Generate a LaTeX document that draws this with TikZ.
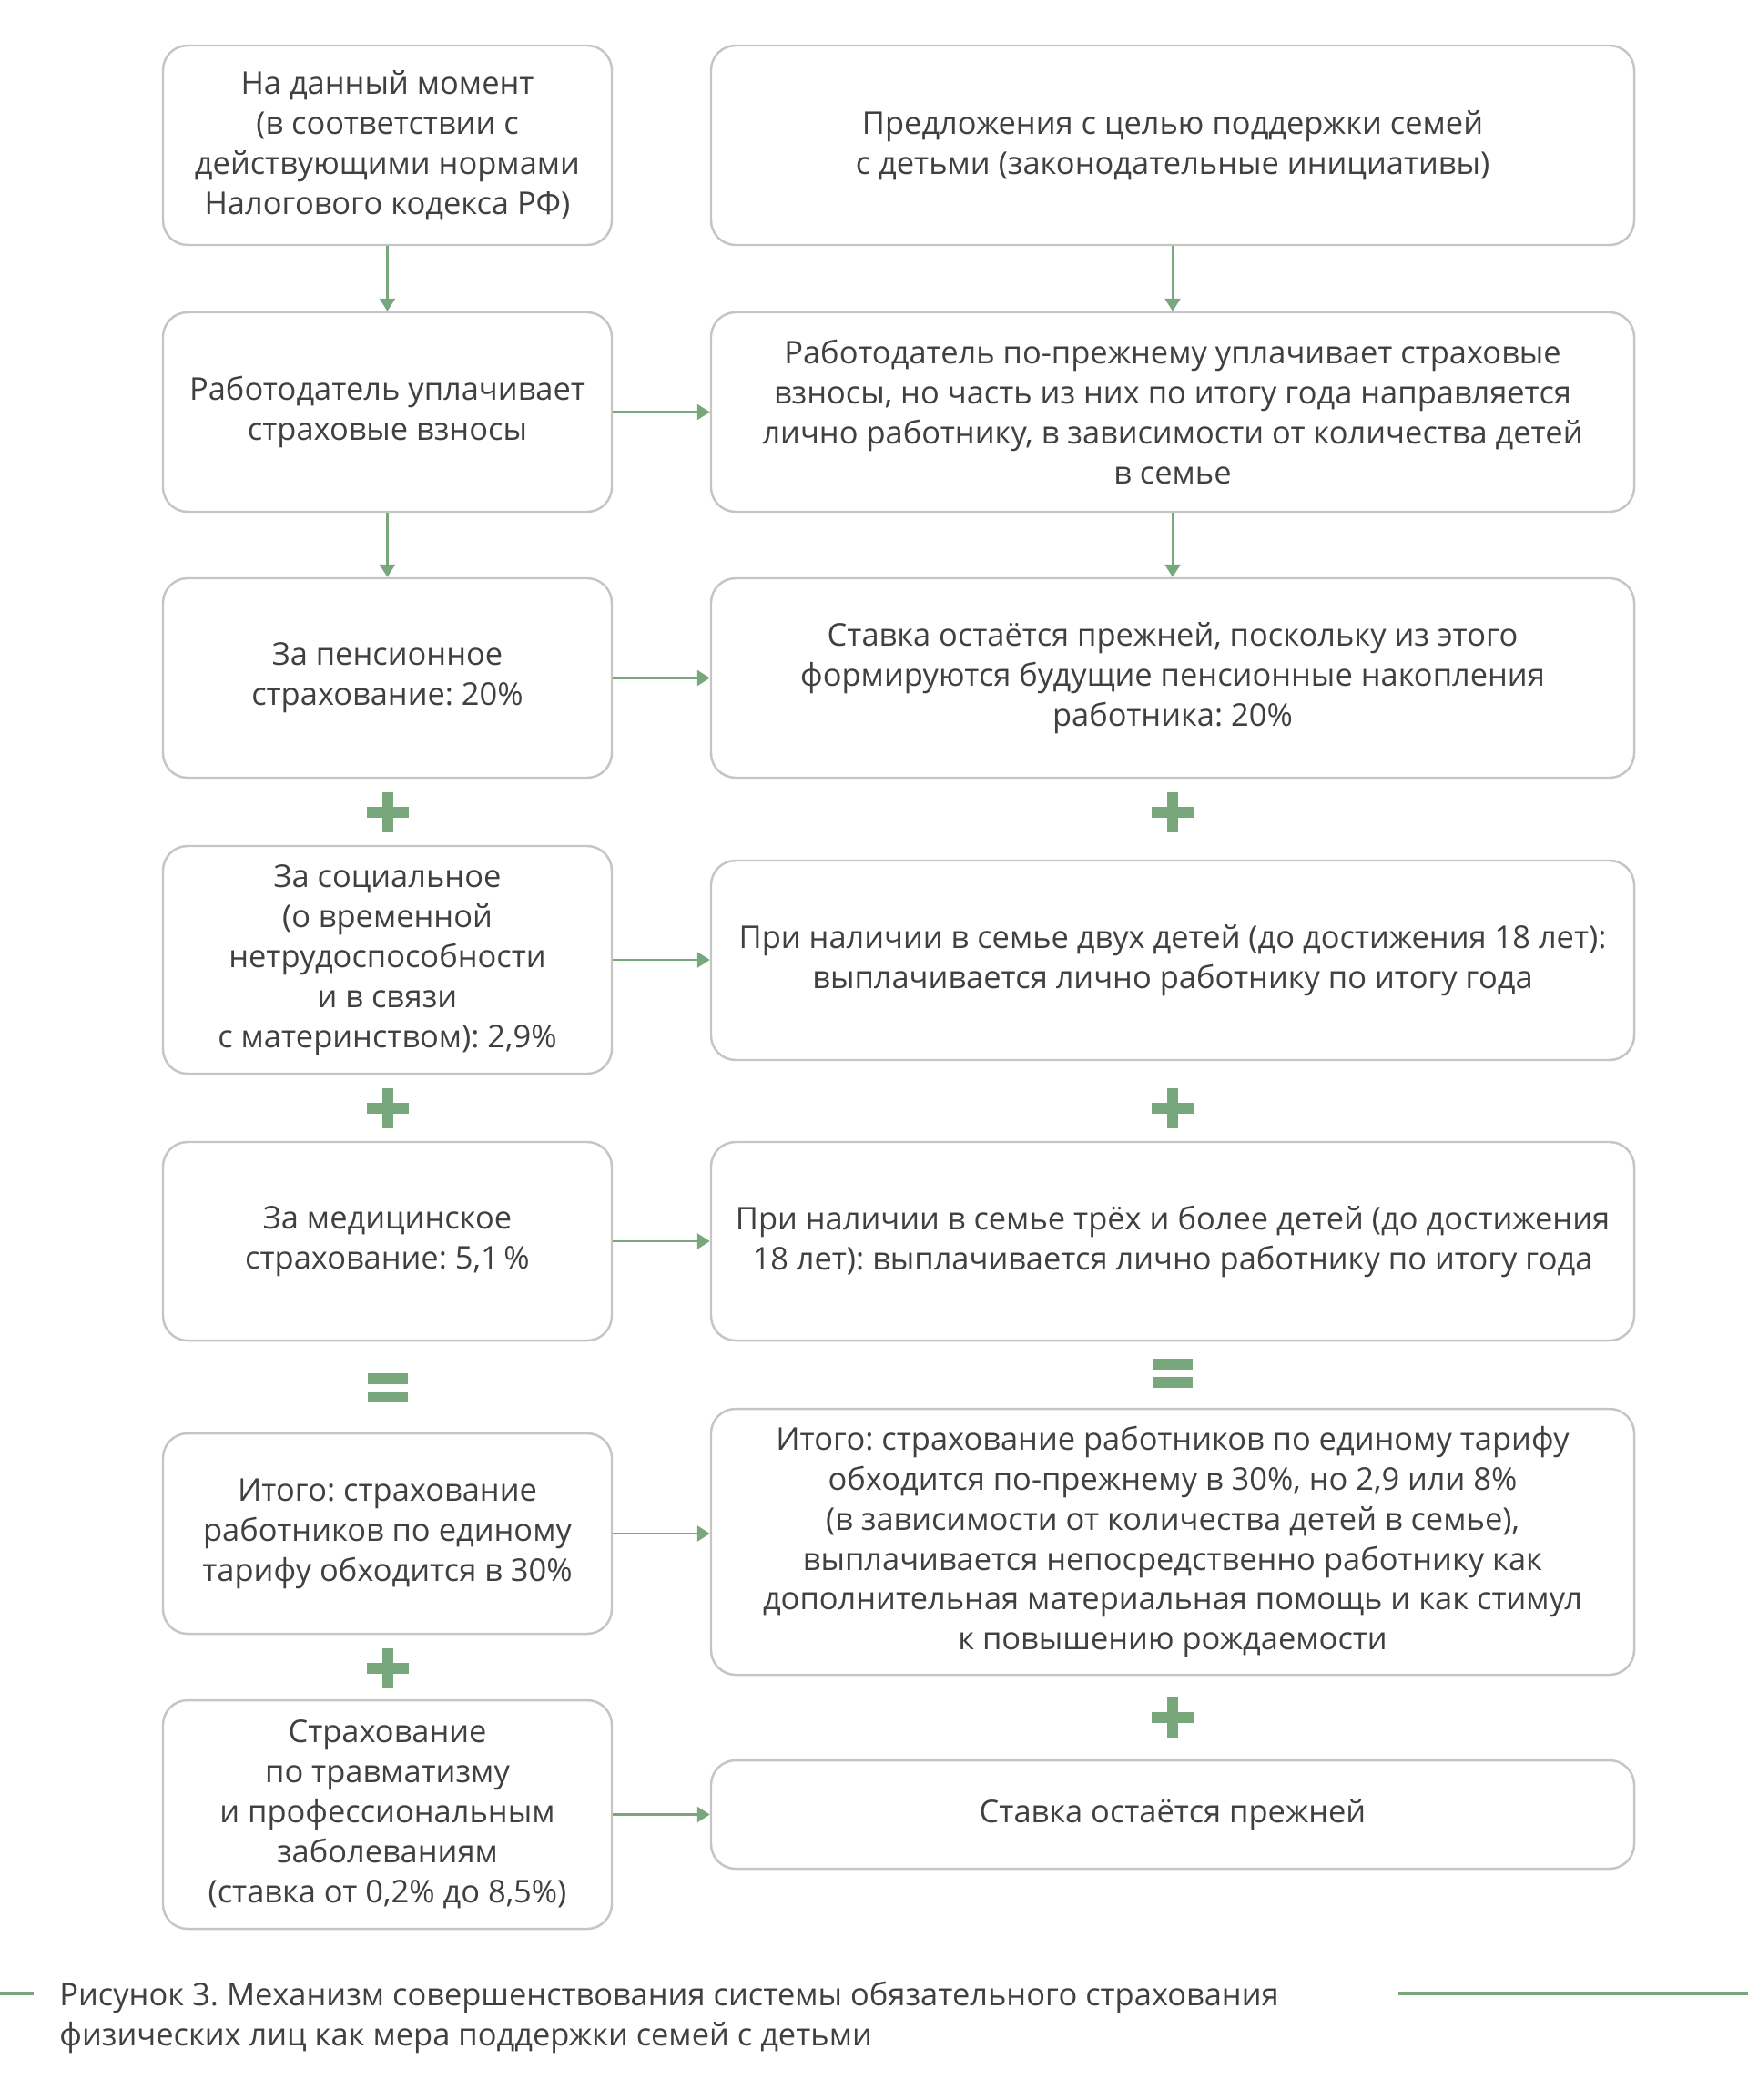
\documentclass[tikz,border=0pt]{standalone}
\usepackage{fontspec}
\setmainfont{Open Sans}
\usetikzlibrary{arrows.meta,positioning}
\definecolor{schemegreen}{RGB}{120,167,124}
\definecolor{boxgray}{RGB}{197,197,197}
\definecolor{textgray}{RGB}{64,64,64}
\frenchspacing

\begin{document}
\begin{tikzpicture}[font=\fontsize{9.8}{12.5}\selectfont,box/.style={draw=boxgray,line width=0.7pt,rounded corners=0.27cm,align=center,inner sep=0pt,text=textgray},lbox/.style={box,minimum width=4.93cm},rbox/.style={box,minimum width=10.14cm},arr/.style={-{Triangle[length=0.14cm,width=0.17cm]},draw=schemegreen,line width=0.75pt},plussign/.pic={\fill[schemegreen](-0.23,-0.06)rectangle(0.23,0.06);\fill[schemegreen](-0.06,-0.22)rectangle(0.06,0.22);},equalsign/.pic={\fill[schemegreen](-0.22,0.04)rectangle(0.22,0.16);\fill[schemegreen](-0.22,-0.16)rectangle(0.22,-0.04);}]
\useasboundingbox(0,0)rectangle(19.2,-23.06);
\node[lbox,minimum height=2.19cm](now)at(4.255,-1.595){На данный момент\\(в соответствии с\\действующими нормами\\Налогового кодекса РФ)};
\node[rbox,minimum height=2.19cm](offer)at(12.88,-1.595){Предложения с целью поддержки семей\\с детьми (законодательные инициативы)};
\node[lbox,minimum height=2.19cm](payer)at(4.255,-4.525){Работодатель уплачивает\\страховые взносы};
\node[rbox,minimum height=2.19cm](newpayer)at(12.88,-4.525){Работодатель по-прежнему уплачивает страховые\\взносы, но часть из них по итогу года направляется\\лично работнику, в зависимости от количества детей\\в семье};
\node[lbox,minimum height=2.19cm](pension)at(4.255,-7.445){За пенсионное\\страхование: 20\%};
\node[rbox,minimum height=2.19cm](newpension)at(12.88,-7.445){Ставка остаётся прежней, поскольку из этого\\формируются будущие пенсионные накопления\\работника: 20\%};
\node[lbox,minimum height=2.50cm](social)at(4.255,-10.54){За социальное\\(о временной\\нетрудоспособности\\и в связи\\с материнством): 2,9\%};
\node[rbox,minimum height=2.19cm](twokids)at(12.88,-10.545){При наличии в семье двух детей (до достижения 18 лет):\\выплачивается лично работнику по итогу года};
\node[lbox,minimum height=2.18cm](medical)at(4.255,-13.63){За медицинское\\страхование: 5,1\,\%};
\node[rbox,minimum height=2.18cm](threekids)at(12.88,-13.63){При наличии в семье трёх и более детей (до достижения\\18 лет): выплачивается лично работнику по итогу года};
\node[lbox,minimum height=2.20cm](total)at(4.255,-16.84){Итого: страхование\\работников по единому\\тарифу обходится в 30\%};
\node[rbox,minimum height=2.92cm](newtotal)at(12.88,-16.93){Итого: страхование работников по единому тарифу\\обходится по-прежнему в 30\%, но 2,9 или 8\%\\(в зависимости от количества детей в семье),\\выплачивается непосредственно работнику как\\дополнительная материальная помощь и как стимул\\к повышению рождаемости};
\node[lbox,minimum height=2.51cm](injury)at(4.255,-19.925){Страхование\\по травматизму\\и профессиональным\\заболеваниям\\(ставка от 0,2\% до 8,5\%)};
\node[rbox,minimum height=1.19cm](newinjury)at(12.88,-19.925){Ставка остаётся прежней};
\draw[arr](now)--(payer);\draw[arr](payer)--(pension);\draw[arr](offer)--(newpayer);\draw[arr](newpayer)--(newpension);
\draw[arr](payer.east)--(payer.east-|newpayer.west);\draw[arr](pension.east)--(pension.east-|newpension.west);\draw[arr](social.east)--(social.east-|twokids.west);
\draw[arr](medical.east)--(medical.east-|threekids.west);\draw[arr](total.east)--(total.east-|newtotal.west);\draw[arr](injury.east)--(injury.east-|newinjury.west);
\pic at(4.255,-8.92){plussign};\pic at(4.255,-12.17){plussign};\pic at(4.255,-15.24){equalsign};\pic at(4.255,-18.32){plussign};
\pic at(12.88,-8.92){plussign};\pic at(12.88,-12.17){plussign};\pic at(12.88,-15.08){equalsign};\pic at(12.88,-18.86){plussign};
\node[anchor=base west,align=left,text=textgray](caption)at(0.53,-22.46){Рисунок 3. Механизм совершенствования системы обязательного страхования\\физических лиц как мера поддержки семей с детьми};
\draw[schemegreen,line width=1pt](0,-21.89)--(0.37,-21.89);\draw[schemegreen,line width=1pt](15.36,-21.89)--(19.2,-21.89);
\end{tikzpicture}
\end{document}
